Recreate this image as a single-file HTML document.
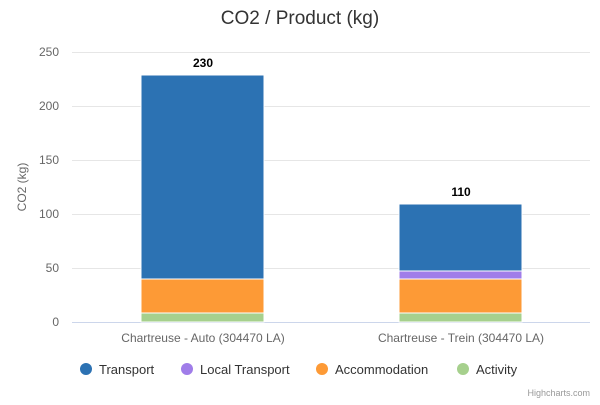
<!DOCTYPE html>
<html><head><style>
body{margin:0;background:#fff;font-family:"Liberation Sans","DejaVu Sans",sans-serif;}
</style></head><body>
<svg width="600" height="400" xmlns="http://www.w3.org/2000/svg" font-family="Liberation Sans, DejaVu Sans, sans-serif">
<rect width="600" height="400" fill="#fff"/>
<text x="300" y="24" text-anchor="middle" font-size="19" fill="#333">CO2 / Product (kg)</text>
<g stroke="#e6e6e6" stroke-width="1">
<line x1="72" x2="590" y1="52.5" y2="52.5"/><line x1="72" x2="590" y1="106.5" y2="106.5"/>
<line x1="72" x2="590" y1="160.5" y2="160.5"/><line x1="72" x2="590" y1="214.5" y2="214.5"/>
<line x1="72" x2="590" y1="268.5" y2="268.5"/>
</g>
<line x1="72" x2="590" y1="322.5" y2="322.5" stroke="#ccd6eb"/>
<g font-size="12" fill="#666" text-anchor="end">
<text x="59" y="56">250</text><text x="59" y="110">200</text><text x="59" y="164">150</text>
<text x="59" y="218">100</text><text x="59" y="272">50</text><text x="59" y="326">0</text>
</g>
<text transform="translate(26,187) rotate(-90)" text-anchor="middle" font-size="12" fill="#666">CO2 (kg)</text>
<g stroke="#fff" stroke-width="1">
<rect x="141" y="75" width="123" height="204" fill="#2c72b3"/>
<rect x="141" y="279" width="123" height="34" fill="#fd9a36"/>
<rect x="141" y="313" width="123" height="9" fill="#a6d08d"/>
<rect x="399" y="204" width="123" height="67" fill="#2c72b3"/>
<rect x="399" y="271" width="123" height="8" fill="#a07de9"/>
<rect x="399" y="279" width="123" height="34" fill="#fd9a36"/>
<rect x="399" y="313" width="123" height="9" fill="#a6d08d"/>
</g>
<g font-size="12" font-weight="bold" fill="#000" text-anchor="middle">
<text x="203" y="67">230</text><text x="461" y="196">110</text>
</g>
<g font-size="12" fill="#666" text-anchor="middle">
<text x="203" y="342">Chartreuse - Auto (304470 LA)</text>
<text x="461" y="342">Chartreuse - Trein (304470 LA)</text>
</g>
<g font-size="13" fill="#333">
<circle cx="86" cy="369" r="6" fill="#2c72b3"/><text x="99" y="374">Transport</text>
<circle cx="187" cy="369" r="6" fill="#a07de9"/><text x="200" y="374">Local Transport</text>
<circle cx="322" cy="369" r="6" fill="#fd9a36"/><text x="335" y="374">Accommodation</text>
<circle cx="463" cy="369" r="6" fill="#a6d08d"/><text x="476" y="374">Activity</text>
</g>
<text x="590" y="396" text-anchor="end" font-size="9" fill="#999">Highcharts.com</text>
</svg>
</body></html>
